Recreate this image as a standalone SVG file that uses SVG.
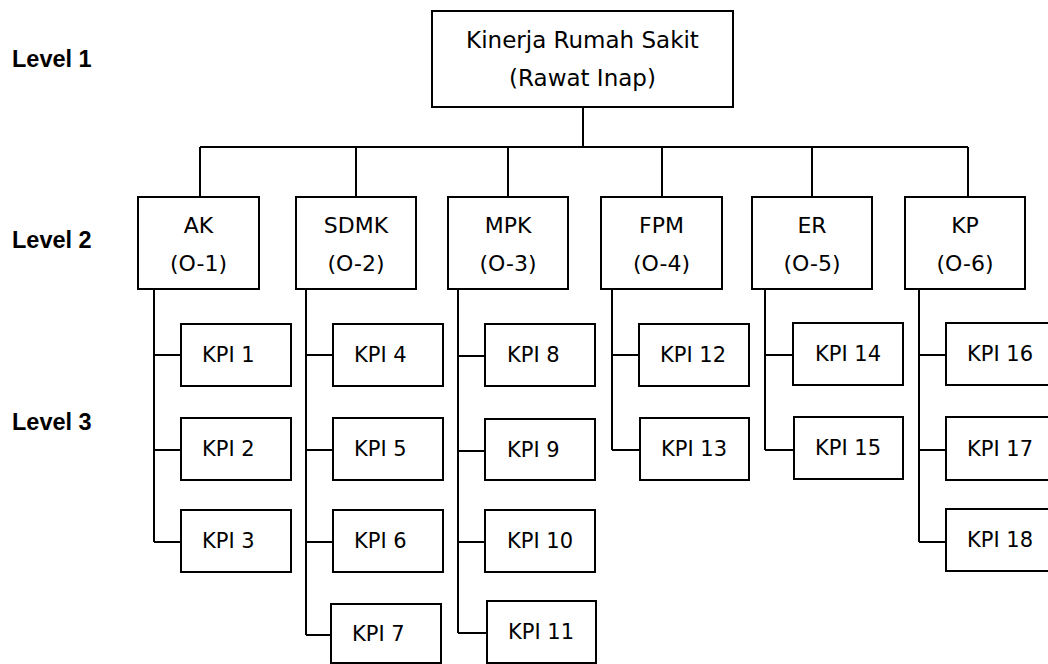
<svg xmlns="http://www.w3.org/2000/svg" width="1048" height="664" viewBox="0 0 1048 664">
<style>
.box{fill:#fff;stroke:#000;stroke-width:2}
.ln{fill:none;stroke:#000;stroke-width:2}
.t{font-family:"DejaVu Sans",sans-serif;fill:#000}
.top{font-size:23px;text-anchor:middle}
.l2{font-size:22px;text-anchor:middle}
.k{font-size:21px}
.lv{font-family:"Liberation Sans",Arial,sans-serif;font-weight:bold;font-size:23.5px;fill:#000}
</style>
<rect width="1048" height="664" fill="#fff"/>
<g id="levels">
<text class="lv" x="12" y="67">Level 1</text>
<text class="lv" x="12" y="248">Level 2</text>
<text class="lv" x="12" y="430">Level 3</text>
</g>
<g id="connectors" class="ln">
<path d="M583 107V147M200 147H968M200 147V197M356 147V197M508 147V197M662 147V197M812 147V197M968 147V197"/>
<path d="M154 289V542M154 355H181M154 450H181M154 542H181"/>
<path d="M306 289V635M306 355H333M306 450H333M306 542H333M306 635H331"/>
<path d="M458 289V633M458 356H485M458 451H485M458 542H485M458 633H487"/>
<path d="M612 289V450M612 355H639M612 450H640"/>
<path d="M765 289V450M765 355H793M765 450H794"/>
<path d="M919 289V542M919 355H946M919 450H946M919 542H946"/>
</g>
<g id="root"><rect class="box" x="432" y="11" width="301" height="96"/>
<text class="t top" x="582.5" y="48">Kinerja Rumah Sakit</text>
<text class="t top" x="582.5" y="86">(Rawat Inap)</text></g>
<g id="o1"><rect class="box" x="138" y="197" width="121" height="92"/><text class="t l2" x="198.5" y="233">AK</text><text class="t l2" x="198.5" y="271">(O-1)</text></g>
<g id="o2"><rect class="box" x="296" y="197" width="120" height="92"/><text class="t l2" x="356" y="233">SDMK</text><text class="t l2" x="356" y="271">(O-2)</text></g>
<g id="o3"><rect class="box" x="448" y="197" width="120" height="92"/><text class="t l2" x="508" y="233">MPK</text><text class="t l2" x="508" y="271">(O-3)</text></g>
<g id="o4"><rect class="box" x="601" y="197" width="121" height="92"/><text class="t l2" x="661.5" y="233">FPM</text><text class="t l2" x="661.5" y="271">(O-4)</text></g>
<g id="o5"><rect class="box" x="752" y="197" width="120" height="92"/><text class="t l2" x="812" y="233">ER</text><text class="t l2" x="812" y="271">(O-5)</text></g>
<g id="o6"><rect class="box" x="905" y="197" width="120" height="92"/><text class="t l2" x="965" y="233">KP</text><text class="t l2" x="965" y="271">(O-6)</text></g>
<g id="kpi1"><rect class="box" x="181" y="324" width="110" height="62"/><text class="t k" x="202" y="362">KPI 1</text></g>
<g id="kpi2"><rect class="box" x="181" y="418" width="110" height="62"/><text class="t k" x="202" y="456">KPI 2</text></g>
<g id="kpi3"><rect class="box" x="181" y="510" width="110" height="62"/><text class="t k" x="202" y="548">KPI 3</text></g>
<g id="kpi4"><rect class="box" x="333" y="324" width="110" height="62"/><text class="t k" x="354" y="362">KPI 4</text></g>
<g id="kpi5"><rect class="box" x="333" y="418" width="110" height="62"/><text class="t k" x="354" y="456">KPI 5</text></g>
<g id="kpi6"><rect class="box" x="333" y="510" width="110" height="62"/><text class="t k" x="354" y="548">KPI 6</text></g>
<g id="kpi7"><rect class="box" x="331" y="604" width="110" height="59"/><text class="t k" x="352" y="641">KPI 7</text></g>
<g id="kpi8"><rect class="box" x="485" y="324" width="110" height="62"/><text class="t k" x="507" y="362">KPI 8</text></g>
<g id="kpi9"><rect class="box" x="485" y="419" width="110" height="61"/><text class="t k" x="507" y="457">KPI 9</text></g>
<g id="kpi10"><rect class="box" x="485" y="510" width="110" height="62"/><text class="t k" x="507" y="548">KPI 10</text></g>
<g id="kpi11"><rect class="box" x="487" y="601" width="109" height="62"/><text class="t k" x="508" y="639">KPI 11</text></g>
<g id="kpi12"><rect class="box" x="639" y="324" width="110" height="62"/><text class="t k" x="660" y="362">KPI 12</text></g>
<g id="kpi13"><rect class="box" x="640" y="418" width="109" height="62"/><text class="t k" x="661" y="456">KPI 13</text></g>
<g id="kpi14"><rect class="box" x="793" y="323" width="110" height="62"/><text class="t k" x="815" y="361">KPI 14</text></g>
<g id="kpi15"><rect class="box" x="794" y="417" width="109" height="62"/><text class="t k" x="815" y="455">KPI 15</text></g>
<g id="kpi16"><rect class="box" x="946" y="323" width="110" height="62"/><text class="t k" x="967" y="361">KPI 16</text></g>
<g id="kpi17"><rect class="box" x="946" y="417" width="110" height="63"/><text class="t k" x="967" y="456">KPI 17</text></g>
<g id="kpi18"><rect class="box" x="946" y="509" width="110" height="62"/><text class="t k" x="967" y="547">KPI 18</text></g>
</svg>
